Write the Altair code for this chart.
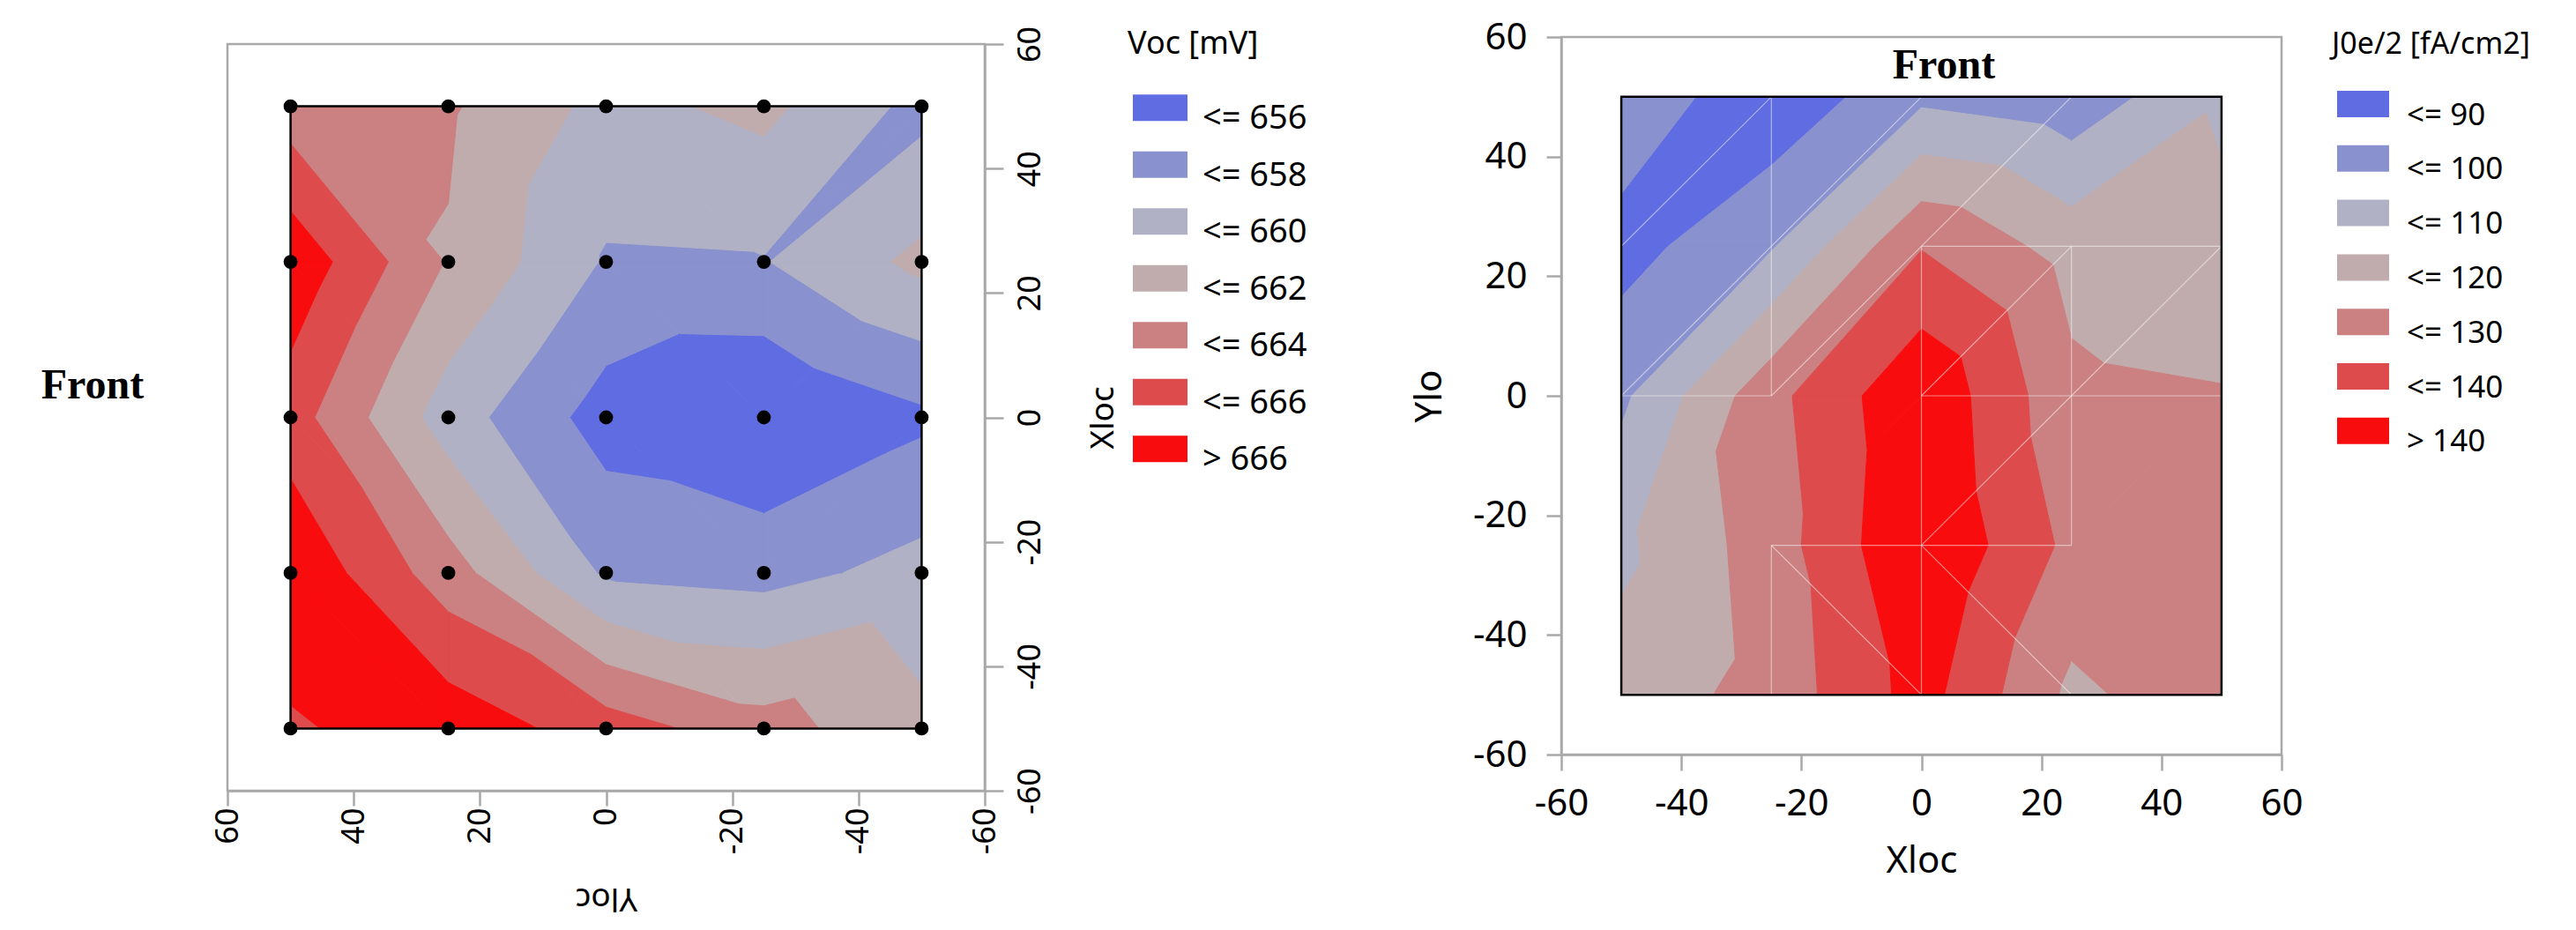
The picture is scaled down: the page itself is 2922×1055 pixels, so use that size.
import pandas as pd
import altair as alt

# ---------------- data ----------------
TICKS = [-60, -40, -20, 0, 20, 40, 60]

# Left panel: Voc [mV] measured on a 5 x 5 grid (rows = Xloc, columns = Yloc)
voc_xloc = [50, 25, 0, -25, -50]
voc_yloc = [50, 25, 0, -25, -50]
voc_values = [
    [662.9, 662.25, 659.4, 660.5, 657.4],
    [667.5, 661.85, 657.8, 657.9, 660.5],
    [664.9, 659.0, 655.1, 653.9, 655.6],
    [667.7, 662.9, 657.7, 657.3, 658.7],
    [665.7, 667.3, 665.0, 662.8, 660.5],
]
voc_thresholds = [656, 658, 660, 662, 664, 666]
voc_labels = ["<= 656", "<= 658", "<= 660", "<= 662", "<= 664", "<= 666", "> 666"]

# Right panel: J0e/2 [fA/cm2] on a 5 x 5 grid (rows = Ylo, columns = Xloc)
j0e_ylo = [50, 25, 0, -25, -50]
j0e_xloc = [-50, -25, 0, 25, 50]
j0e_values = [
    [97.6, 82.3, 97.7, 93.3, 109.3],
    [85.9, 99.1, 129.5, 116.0, 111.0],
    [98.0, 127.0, 148.5, 122.5, 120.8],
    [108.0, 125.0, 150.0, 127.5, 125.0],
    [114.0, 123.8, 144.0, 117.8, 126.6],
]
j0e_thresholds = [90, 100, 110, 120, 130, 140]
j0e_labels = ["<= 90", "<= 100", "<= 110", "<= 120", "<= 130", "<= 140", "> 140"]

# faint triangulation seams visible in the right panel, as pairs of grid nodes
# (column index into j0e_xloc, row index into j0e_ylo)
j0e_seams = [
    ((0, 1), (1, 0)), ((1, 0), (1, 1)), ((1, 1), (1, 2)), ((1, 3), (1, 4)),
    ((0, 2), (1, 2)), ((0, 2), (1, 1)), ((1, 1), (2, 0)), ((1, 2), (2, 1)),
    ((2, 1), (3, 0)), ((2, 1), (3, 1)), ((3, 1), (4, 1)), ((3, 1), (3, 2)),
    ((3, 2), (3, 3)), ((1, 3), (2, 3)), ((2, 3), (3, 3)), ((2, 1), (2, 2)),
    ((2, 2), (2, 3)), ((2, 3), (2, 4)), ((2, 2), (3, 1)), ((2, 2), (3, 2)),
    ((3, 2), (4, 2)), ((2, 3), (3, 2)), ((3, 2), (4, 1)), ((1, 3), (2, 4)),
    ((2, 3), (3, 4)),
]

band_colors = ["#606ce2", "#8991ce", "#b0b1c4", "#c1acad", "#cb8081", "#dd4b4c", "#f90c0d"]

# ---------------- contour helpers ----------------
def clip(poly, level, keep_above):
    out = []
    n = len(poly)
    for k in range(n):
        p = poly[k]
        q = poly[(k + 1) % n]
        pin = p[2] >= level if keep_above else p[2] <= level
        qin = q[2] >= level if keep_above else q[2] <= level
        if pin:
            out.append(p)
        if pin != qin:
            t = (level - p[2]) / (q[2] - p[2])
            out.append((p[0] + t * (q[0] - p[0]), p[1] + t * (q[1] - p[1]), level))
    return out


def triangles(xs, ys, F):
    tris = []
    for i in range(len(xs) - 1):
        for j in range(len(ys) - 1):
            p00 = (xs[i], ys[j], F[i][j])
            p10 = (xs[i + 1], ys[j], F[i + 1][j])
            p01 = (xs[i], ys[j + 1], F[i][j + 1])
            p11 = (xs[i + 1], ys[j + 1], F[i + 1][j + 1])
            if j == 0:
                tris.append([p01, p10, p00])
                tris.append([p01, p11, p10])
            else:
                tris.append([p00, p10, p11])
                tris.append([p00, p11, p01])
    return tris


def band_polygons(tris, thresholds, labels, bfield):
    rows = []
    pid = 0
    for tri in tris:
        for b, lab in enumerate(labels):
            poly = tri
            if b > 0:
                poly = clip(poly, thresholds[b - 1], True)
            if b < len(thresholds) and len(poly) >= 3:
                poly = clip(poly, thresholds[b], False)
            if len(poly) < 3:
                continue
            n = len(poly)
            area = 0.5 * abs(sum(poly[k][0] * poly[(k + 1) % n][1] - poly[(k + 1) % n][0] * poly[k][1] for k in range(n)))
            if area < 1e-7:
                continue
            for k, p in enumerate(poly):
                rows.append({"pid": pid, "ord": k, "X": float(p[0]), "Y": float(p[1]), bfield: lab})
            pid += 1
    return pd.DataFrame(rows)


# left: original frame X = Xloc, Y = Yloc
lxs = sorted(voc_xloc)
lys = sorted(voc_yloc)
LF = [[voc_values[voc_xloc.index(x)][voc_yloc.index(y)] for y in lys] for x in lxs]
left_df = band_polygons(triangles(lxs, lys, LF), voc_thresholds, voc_labels, "vband")

# right: X = Xloc, Y = Ylo
rxs = sorted(j0e_xloc)
rys = sorted(j0e_ylo)
RF = [[j0e_values[j0e_ylo.index(y)][j0e_xloc.index(x)] for y in rys] for x in rxs]
right_df = band_polygons(triangles(rxs, rys, RF), j0e_thresholds, j0e_labels, "jband")

seam_df = pd.DataFrame([
    {"X": j0e_xloc[a[0]], "Y": j0e_ylo[a[1]], "X2": j0e_xloc[b[0]], "Y2": j0e_ylo[b[1]]}
    for a, b in j0e_seams
])

left_pts = pd.DataFrame([{"X": x, "Y": y} for x in voc_xloc for y in voc_yloc])
left_frame = pd.DataFrame([{"X": min(voc_xloc), "X2": max(voc_xloc), "Y": min(voc_yloc), "Y2": max(voc_yloc)}])
right_frame = pd.DataFrame([{"X": min(j0e_xloc), "X2": max(j0e_xloc), "Y": min(j0e_ylo), "Y2": max(j0e_ylo)}])
one = pd.DataFrame({"t": ["Front"]})

# ---------------- styling ----------------
FONT = "Noto Sans"
SERIF = "Liberation Serif"
GRAY = "#a9a9a9"
L_W, L_H = 859, 847
R_W, R_H = 817, 814
HYPHEN = "'' + datum.value"

# ---------------- left panel ----------------
lxscale = alt.Scale(domain=[-60, 60], reverse=True, nice=False, zero=False)
lyscale = alt.Scale(domain=[-60, 60], nice=False, zero=False)
lxaxis = alt.Axis(values=TICKS, title="Yloc", labelAngle=270, labelAlign="right", labelBaseline="middle",
                  labelPadding=2, labelFontSize=36, tickSize=17, titleAngle=180, titleBaseline="bottom",
                  titlePadding=31, titleFontSize=37, labelExpr=HYPHEN)
lyaxis = alt.Axis(orient="right", values=TICKS, title="Xloc", labelAngle=270, labelAlign="center",
                  labelBaseline="top", labelPadding=13, labelFontSize=36, tickSize=21, titleAngle=270,
                  titleBaseline="top", titlePadding=47, titleFontSize=37, labelExpr=HYPHEN)
lcs = alt.Scale(domain=voc_labels, range=band_colors)
lleg = alt.Legend(title="Voc [mV]", orient="none", legendX=1021, legendY=-9, padding=0,
                  titleFont=FONT, titleFontSize=36, titleFontWeight="normal", titleColor="black",
                  titlePadding=35, titleLimit=500, labelLimit=500,
                  labelFont=FONT, labelFontSize=38, labelColor="black", labelOffset=17,
                  symbolType="M-1,-0.894H1V0.074H-1Z", symbolSize=3844, symbolOffset=6,
                  symbolStrokeWidth=0, rowPadding=14.5)

l_poly = alt.Chart(left_df).mark_line(filled=True, interpolate="linear-closed", strokeWidth=1).encode(
    x=alt.X("Y:Q", scale=lxscale, axis=lxaxis),
    y=alt.Y("X:Q", scale=lyscale, axis=lyaxis),
    color=alt.Color("vband:N", scale=lcs, legend=lleg),
    stroke=alt.Stroke("vband:N", scale=lcs, legend=None),
    detail="pid:N",
    order="ord:Q",
)
l_box = alt.Chart(left_frame).mark_rect(fillOpacity=0, stroke="black", strokeWidth=2.5).encode(
    x=alt.X("Y:Q", scale=lxscale, axis=lxaxis), x2="Y2:Q",
    y=alt.Y("X:Q", scale=lyscale, axis=lyaxis), y2="X2:Q",
)
l_dots = alt.Chart(left_pts).mark_circle(size=250, color="black", opacity=1).encode(
    x=alt.X("Y:Q", scale=lxscale, axis=lxaxis),
    y=alt.Y("X:Q", scale=lyscale, axis=lyaxis),
)
l_front = alt.Chart(one).mark_text(font=SERIF, fontSize=48, fontWeight="bold", align="center",
                                   baseline="alphabetic", color="black").encode(
    text="t:N", x=alt.value(-153), y=alt.value(402))
l_anchor1 = alt.Chart(one).mark_rect(color="white").encode(
    x=alt.value(-256), x2=alt.value(-255), y=alt.value(-48), y2=alt.value(-47))
l_anchor2 = alt.Chart(one).mark_rect(color="white").encode(
    x=alt.value(1293), x2=alt.value(1294), y=alt.value(0), y2=alt.value(1))
l_anchor3 = alt.Chart(one).mark_rect(color="white").encode(
    x=alt.value(-100), x2=alt.value(-99), y=alt.value(1005), y2=alt.value(1006))

left = alt.layer(l_poly, l_box, l_dots, l_front, l_anchor1, l_anchor2, l_anchor3).properties(width=L_W, height=L_H)

spacer = alt.Chart(one).mark_rect(color="white").encode(
    x=alt.value(0), x2=alt.value(1), y=alt.value(0), y2=alt.value(1)
).properties(width=L_W, height=8, view=alt.ViewBackground(stroke="transparent"))

left_col = alt.vconcat(spacer, left, spacing=0, bounds="flush")

# ---------------- right panel ----------------
rxscale = alt.Scale(domain=[-60, 60], nice=False, zero=False)
ryscale = alt.Scale(domain=[-60, 60], nice=False, zero=False)
rxaxis = alt.Axis(values=TICKS, title="Xloc", labelFontSize=42, tickSize=18, labelPadding=17,
                  titlePadding=24, titleFontSize=42, labelExpr=HYPHEN)
ryaxis = alt.Axis(values=TICKS, title="Ylo", labelFontSize=42, tickSize=17, labelPadding=22,
                  titlePadding=27, titleFontSize=42, labelExpr=HYPHEN)
rcs = alt.Scale(domain=j0e_labels, range=band_colors)
rleg = alt.Legend(title="J0e/2 [fA/cm2]", orient="none", legendX=874, legendY=-8, padding=0,
                  titleFont=FONT, titleFontSize=34, titleFontWeight="normal", titleColor="black",
                  titlePadding=33, titleLimit=500, labelLimit=500,
                  labelFont=FONT, labelFontSize=35, labelColor="black", labelOffset=20,
                  symbolType="M-1,-0.932H1V0.085H-1Z", symbolSize=3481, symbolOffset=6,
                  symbolStrokeWidth=0, rowPadding=13.8)

r_poly = alt.Chart(right_df).mark_line(filled=True, interpolate="linear-closed", strokeWidth=1).encode(
    x=alt.X("X:Q", scale=rxscale, axis=rxaxis),
    y=alt.Y("Y:Q", scale=ryscale, axis=ryaxis),
    color=alt.Color("jband:N", scale=rcs, legend=rleg),
    stroke=alt.Stroke("jband:N", scale=rcs, legend=None),
    detail="pid:N",
    order="ord:Q",
)
r_seams = alt.Chart(seam_df).mark_rule(color="white", strokeWidth=1.2, opacity=0.5).encode(
    x=alt.X("X:Q", scale=rxscale, axis=rxaxis), x2="X2:Q",
    y=alt.Y("Y:Q", scale=ryscale, axis=ryaxis), y2="Y2:Q",
)
r_box = alt.Chart(right_frame).mark_rect(fillOpacity=0, stroke="black", strokeWidth=2.5).encode(
    x=alt.X("X:Q", scale=rxscale, axis=rxaxis), x2="X2:Q",
    y=alt.Y("Y:Q", scale=ryscale, axis=ryaxis), y2="Y2:Q",
)
r_front = alt.Chart(one).mark_text(font=SERIF, fontSize=48, fontWeight="bold", align="center",
                                   baseline="alphabetic", color="black").encode(
    text="t:N", x=alt.value(434), y=alt.value(47))
r_anchor = alt.Chart(one).mark_rect(color="white").encode(
    x=alt.value(-215), x2=alt.value(-214), y=alt.value(-40), y2=alt.value(-39))

right = alt.layer(r_poly, r_seams, r_box, r_front, r_anchor).properties(width=R_W, height=R_H)

chart = alt.hconcat(left_col, right, spacing=0).resolve_scale(
    color="independent", stroke="independent"
).properties(padding=0, background="white").configure_view(
    stroke=GRAY, strokeWidth=2.5
).configure_axis(
    grid=False, domainColor=GRAY, domainWidth=2.5, tickColor=GRAY, tickWidth=2.5,
    labelFont=FONT, titleFont=FONT, titleFontWeight="normal", labelColor="black",
    titleColor="black", labelFlush=False, labelOverlap=False
)

chart.save("out.html", embed_options={"renderer": "svg", "actions": False})
